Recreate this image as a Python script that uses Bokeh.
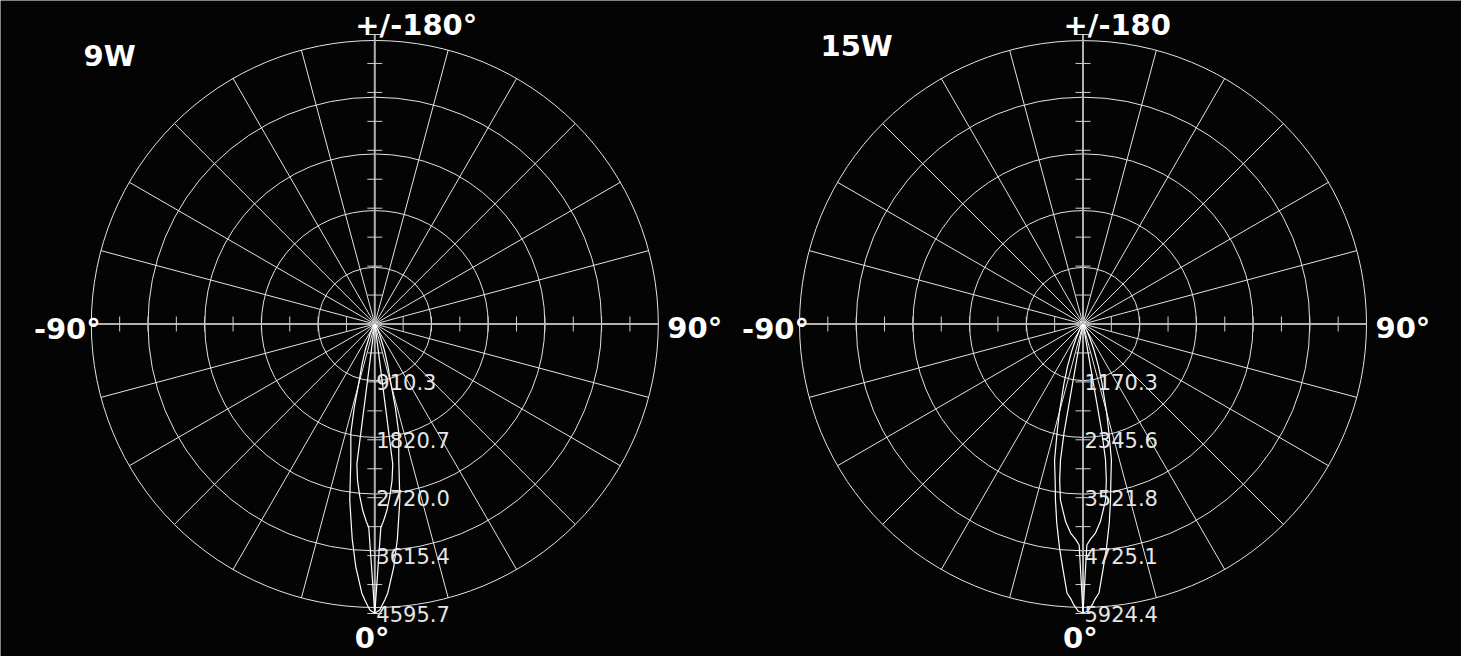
import numpy as np
from bokeh.plotting import figure
from bokeh.models import Range1d
from bokeh.embed import file_html
from bokeh.resources import INLINE
from bokeh.core.properties import value

# ---------------- data ----------------
titles = ["9W", "15W"]
top_labels = ["+/-180°", "+/-180"]
left_labels = ["-90°", "-90°"]
right_labels = ["90°", "90°"]
bottom_labels = ["0°", "0°"]
ring_labels_9w = ["910.3", "1820.7", "2720.0", "3615.4", "4595.7"]
ring_labels_15w = ["1170.3", "2345.6", "3521.8", "4725.1", "5924.4"]
scale_max = [4595.7, 5924.4]

# 9W luminous intensity (cd) vs gamma angle (deg), two C-planes
gamma_9w_a = [0, 1, 2.07, 2.77, 4.47, 6, 8.1, 10, 12.4, 13.8, 15.2, 17.5, 20.1, 25, 30, 40, 60, 90, 180]
cd_9w_a = [4590, 4540, 4385, 4275, 3869, 3430, 2823, 2192, 1772, 1372, 970, 683, 440, 175, 68, 20, 5, 0, 0]
gamma_9w_b = [0, 1.7, 2.5, 3.7, 5, 6.3, 7.3, 10, 20, 90, 180]
cd_9w_b = [4590, 3232, 3134, 2967, 2742, 2497, 2243, 30, 10, 0, 0]

# 15W
gamma_15w_a = [0, 1, 2, 2.4, 3.4, 4.8, 6, 7.5, 8.9, 10, 11.8, 13.4, 15, 17.8, 20, 22.9, 26, 30, 40, 60, 90, 180]
cd_15w_a = [5915, 5873, 5730, 5652, 5515, 4991, 4602, 4113, 3643, 3280, 2845, 2292, 1860, 1269, 929, 577, 323, 147, 40, 10, 0, 0]
gamma_15w_b = [0, 1, 2, 3.4, 5, 6, 7.3, 8.5, 9.4, 9.9, 12, 20, 90, 180]
cd_15w_b = [5915, 4523, 4406, 4285, 4064, 3868, 3632, 3231, 2820, 2251, 49, 10, 0, 0]

ring_labels = [ring_labels_9w, ring_labels_15w]
curves = [[(gamma_9w_a, cd_9w_a), (gamma_9w_b, cd_9w_b)],
          [(gamma_15w_a, cd_15w_a), (gamma_15w_b, cd_15w_b)]]

# ---------------- layout ----------------
W, H = 1461, 656
CENTERS = [(374.3, 323.5), (1082.5, 323.5)]
R = 283.5      # outer ring radius (px)
RS = 289.5     # intensity-scale length (px)
TITLE_POS = [(83, 55), (820, 45)]
BG = "#040404"

p = figure(width=W, height=H, x_range=Range1d(0, W), y_range=Range1d(H, 0),
           output_backend="svg", toolbar_location=None,
           x_axis_type=None, y_axis_type=None, min_border=0,
           background_fill_color=BG, border_fill_color=BG, outline_line_color=None)
p.xgrid.visible = False
p.ygrid.visible = False

FONT = value("DejaVu Sans")

for i, (cx, cy) in enumerate(CENTERS):
    # rings
    radii = [R * k / 5 for k in range(1, 6)]
    p.ellipse(x=[cx] * 5, y=[cy] * 5, width=[2 * r for r in radii], height=[2 * r for r in radii],
              fill_color=None, line_color="#e4e4e4", line_width=1)
    # spokes every 15 deg
    angs = [a for a in range(0, 360, 15) if a % 90 != 0]
    th = np.radians(angs)
    p.segment(x0=[cx] * len(angs), y0=[cy] * len(angs),
              x1=list(cx + R * np.sin(th)), y1=list(cy + R * np.cos(th)),
              line_color="#e4e4e4", line_width=1)
    # axes
    p.segment(x0=[cx - R, cx], y0=[cy, cy - RS], x1=[cx + R, cx], y1=[cy, cy + RS],
              line_color="#b0b0b0", line_width=2)
    # horizontal ticks
    hx = [cx + s * k * R / 10 for s in (-1, 1) for k in range(1, 10)]
    p.segment(x0=hx, y0=[cy - 7.5] * len(hx), x1=hx, y1=[cy + 7.5] * len(hx),
              line_color="#d0d0d0", line_width=1)
    # vertical ticks
    vy = [cy + s * k * RS / 10 for s in (-1, 1) for k in range(1, 11)]
    p.segment(x0=[cx - 7.5] * len(vy), y0=vy, x1=[cx + 7.5] * len(vy), y1=vy,
              line_color="#d0d0d0", line_width=1)

    # curves (mirrored about the vertical axis)
    for g, cd in curves[i]:
        g = np.radians(np.array(g, dtype=float))
        r = np.array(cd, dtype=float) / scale_max[i] * RS
        xs = np.concatenate([cx - (r * np.sin(g))[::-1], cx + r * np.sin(g)])
        ys = np.concatenate([cy + (r * np.cos(g))[::-1], cy + r * np.cos(g)])
        p.line(list(xs), list(ys), line_color="white", line_width=1.2)

    # ring value labels
    ly = [cy + 2 * (j + 1) * RS / 10 for j in range(5)]
    p.text(x=[cx + 1.5] * 5, y=ly, text=ring_labels[i], text_font=FONT,
           text_font_size="21px", text_color="#e6e6e6", text_align="left", text_baseline="middle")

    # angle labels (y = vertical centre of the digits)
    def lab(x, y, t, align):
        p.text(x=[x], y=[y], text=[t], text_font=FONT, text_font_style="bold",
               text_font_size="29px", text_color="white", text_align=align,
               text_baseline="middle")

    lab(cx - 19.5, 24, top_labels[i], "left")
    lab(cx - 274, 328.5, left_labels[i], "right")
    lab(cx + 292.5, 327.5, right_labels[i], "left")
    lab(cx - 20, 637.5, bottom_labels[i], "left")
    lab(TITLE_POS[i][0], TITLE_POS[i][1], titles[i], "left")

open("out.html", "w").write(file_html(p, INLINE))
